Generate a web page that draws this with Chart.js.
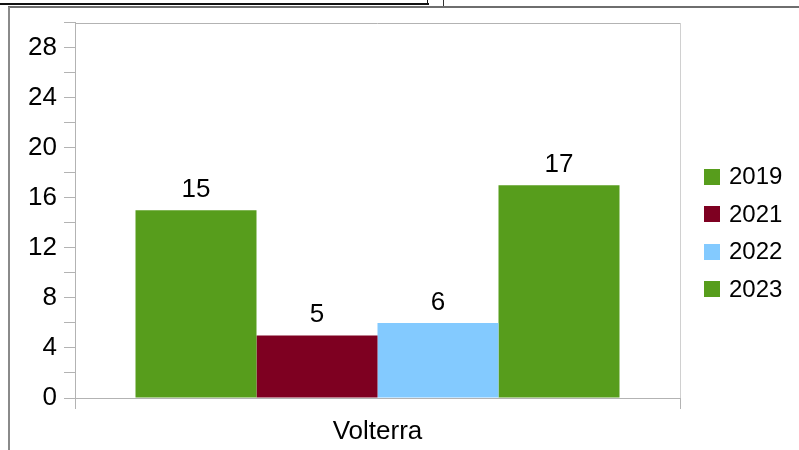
<!DOCTYPE html>
<html>
<head>
<meta charset="utf-8">
<script src="https://cdn.jsdelivr.net/npm/chart.js@4/dist/chart.umd.min.js"></script>
<style>
  html, body { margin: 0; padding: 0; background: #ffffff; }
  #wrap { position: relative; width: 799px; height: 450px; overflow: hidden; }
  #chart { position: absolute; left: 0; top: 0; }
  .edge { position: absolute; }
</style>
</head>
<body>
<div id="wrap">
  <!-- window frame edges around the chart object -->
  <div class="edge" style="left:0;top:3px;width:429px;height:2px;background:#111;"></div>
  <div class="edge" style="left:427px;top:0;width:1px;height:4px;background:#111;"></div>
  <div class="edge" style="left:443px;top:0;width:1px;height:7px;background:#333;"></div>
  <div class="edge" style="left:8px;top:6px;width:791px;height:2px;background:#6e6e6e;"></div>
  <div class="edge" style="left:8px;top:7px;width:2px;height:443px;background:#8a8a8a;"></div>
  <canvas id="chart" width="799" height="450"></canvas>
</div>
<script>
// Chart data
const categories = ['Volterra'];
const seriesNames = ['2019', '2021', '2022', '2023'];
const seriesValues = [[15], [5], [6], [17]];
const seriesColors = ['#579d1c', '#7e0021', '#83caff', '#579d1c'];
const yMin = 0;
const yMax = 30;
const yStep = 2;        // minor tick spacing
const yLabelStep = 4;   // labelled ticks

const FONT = 'Liberation Sans, Arial, sans-serif';
const AXIS_GREY = '#b3b3b3';

// Value labels above each bar
const valueLabels = {
  id: 'valueLabels',
  afterDatasetsDraw(chart) {
    const ctx = chart.ctx;
    ctx.save();
    ctx.font = '26px ' + FONT;
    ctx.fillStyle = '#000';
    ctx.textAlign = 'center';
    ctx.textBaseline = 'alphabetic';
    chart.data.datasets.forEach((ds, i) => {
      chart.getDatasetMeta(i).data.forEach((bar, j) => {
        ctx.fillText(String(ds.data[j]), bar.x, bar.y - 13);
      });
    });
    ctx.restore();
  }
};

// Top and right edges of the plot area
const plotFrame = {
  id: 'plotFrame',
  afterDraw(chart) {
    const a = chart.chartArea;
    const ctx = chart.ctx;
    ctx.save();
    ctx.lineWidth = 1;
    ctx.strokeStyle = AXIS_GREY;
    ctx.beginPath();
    ctx.moveTo(Math.round(a.left), Math.round(a.top) + 0.5);
    ctx.lineTo(Math.round(a.right), Math.round(a.top) + 0.5);
    ctx.stroke();
    ctx.strokeStyle = '#d0d0d0';
    ctx.beginPath();
    ctx.moveTo(Math.round(a.right) + 0.5, Math.round(a.top));
    ctx.lineTo(Math.round(a.right) + 0.5, Math.round(a.bottom));
    ctx.stroke();
    ctx.restore();
  }
};

// Legend column on the right
const sideLegend = {
  id: 'sideLegend',
  afterDraw(chart) {
    const ctx = chart.ctx;
    const n = chart.data.datasets.length;
    const rowGap = 37.5;
    const centerY = 233;
    const boxX = 704;
    const box = 16;
    ctx.save();
    ctx.font = '24px ' + FONT;
    ctx.textAlign = 'left';
    ctx.textBaseline = 'middle';
    chart.data.datasets.forEach((ds, i) => {
      const cy = centerY + (i - (n - 1) / 2) * rowGap;
      ctx.fillStyle = ds.backgroundColor;
      ctx.fillRect(boxX, Math.round(cy - box / 2), box, box);
      ctx.fillStyle = '#000';
      ctx.fillText(ds.label, 729, cy + 1);
    });
    ctx.restore();
  }
};

new Chart(document.getElementById('chart'), {
  type: 'bar',
  data: {
    labels: categories,
    datasets: seriesNames.map((name, i) => ({
      label: name,
      data: seriesValues[i],
      backgroundColor: seriesColors[i],
      borderWidth: 0,
      categoryPercentage: 0.8,
      barPercentage: 1.0
    }))
  },
  options: {
    responsive: false,
    animation: false,
    devicePixelRatio: 1,
    layout: { padding: { left: 0, right: 119, top: 20, bottom: 0 } },
    plugins: {
      legend: { display: false },
      tooltip: { enabled: false }
    },
    scales: {
      x: {
        grid: {
          offset: true,
          drawOnChartArea: false,
          drawTicks: true,
          tickLength: 11,
          color: AXIS_GREY
        },
        border: { color: AXIS_GREY },
        ticks: {
          color: '#000',
          font: { family: FONT, size: 26 },
          padding: 7
        },
        afterFit(scale) { scale.height = 52; }
      },
      y: {
        min: yMin,
        max: yMax,
        grid: {
          drawOnChartArea: false,
          drawTicks: true,
          tickLength: 11,
          color: AXIS_GREY
        },
        border: { color: AXIS_GREY },
        ticks: {
          stepSize: yStep,
          autoSkip: false,
          color: '#000',
          font: { family: FONT, size: 26 },
          padding: 7,
          callback: (v) => (v % yLabelStep === 0 ? String(v) : '')
        },
        afterFit(scale) { scale.width = 75; }
      }
    }
  },
  plugins: [valueLabels, plotFrame, sideLegend]
});
</script>
</body>
</html>
